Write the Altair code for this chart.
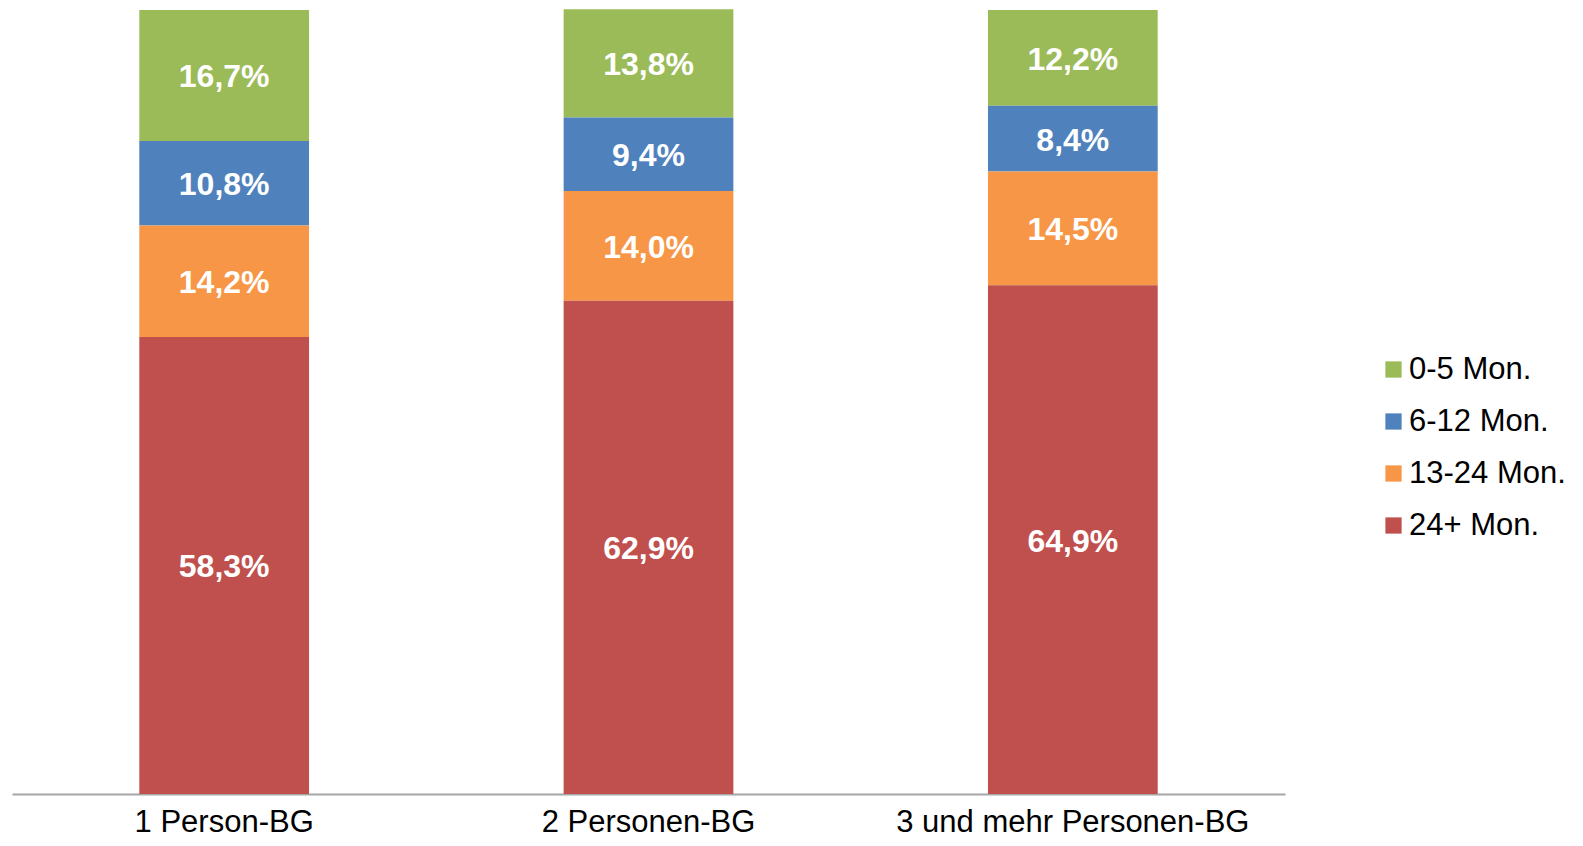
import altair as alt
import pandas as pd

categories = ["1 Person-BG", "2 Personen-BG", "3 und mehr Personen-BG"]
series = ["0-5 Mon.", "6-12 Mon.", "13-24 Mon.", "24+ Mon."]
colors = ["#9BBB59", "#4F81BD", "#F79646", "#C0504D"]
values = {
    "0-5 Mon.": [16.7, 13.8, 12.2],
    "6-12 Mon.": [10.8, 9.4, 8.4],
    "13-24 Mon.": [14.2, 14.0, 14.5],
    "24+ Mon.": [58.3, 62.9, 64.9],
}

rows = []
for s_i, s in enumerate(series):
    for c_i, c in enumerate(categories):
        rows.append({"cat": c, "series": s, "value": values[s][c_i], "ord": 3 - s_i})
df = pd.DataFrame(rows)

FONT = "Liberation Sans"

base = alt.Chart(df).transform_stack(
    stack="value", groupby=["cat"], as_=["y0", "y1"], sort=[alt.SortField("ord", order="ascending")]
).transform_calculate(
    mid="(datum.y0 + datum.y1) / 2",
    label="replace(format(datum.value, '.1f'), '.', ',') + '%'",
)

xenc = alt.X(
    "cat:N", sort=categories, title=None,
    scale=alt.Scale(paddingInner=0.6, paddingOuter=0.3),
    axis=alt.Axis(labelAngle=0, labelFont=FONT, labelFontSize=31, labelColor="#000000",
                  ticks=False, domainColor="#A6A6A6", domainWidth=2, labelPadding=13,
                  labelLimit=600),
)
yscale = alt.Scale(domain=[0, 100], nice=False, zero=True)

bars = base.mark_bar().encode(
    x=xenc,
    y=alt.Y("y0:Q", scale=yscale, axis=None),
    y2="y1:Q",
    color=alt.Color(
        "series:N",
        scale=alt.Scale(domain=series, range=colors),
        legend=alt.Legend(
            title=None, orient="none", legendX=1366, legendY=344,
            labelFont=FONT, labelFontSize=31, labelColor="#000000",
            symbolType="square", symbolSize=264, symbolStrokeWidth=0,
            rowPadding=20, labelOffset=0, labelLimit=400,
        ),
    ),
)

text = base.mark_text(color="white", font=FONT, fontSize=32, fontWeight="bold", dy=2).encode(
    x=alt.X("cat:N", sort=categories),
    y=alt.Y("mid:Q", scale=yscale),
    text="label:N",
)

chart = alt.layer(bars, text).properties(
    width=1273, height=784,
    autosize=alt.AutoSizeParams(type="none"),
    padding={"left": 4, "top": 2, "right": 290, "bottom": 44},
).configure(background="white").configure_view(strokeWidth=0, stroke=None)

chart.save("out.html", embed_options={"renderer": "svg", "actions": False})
